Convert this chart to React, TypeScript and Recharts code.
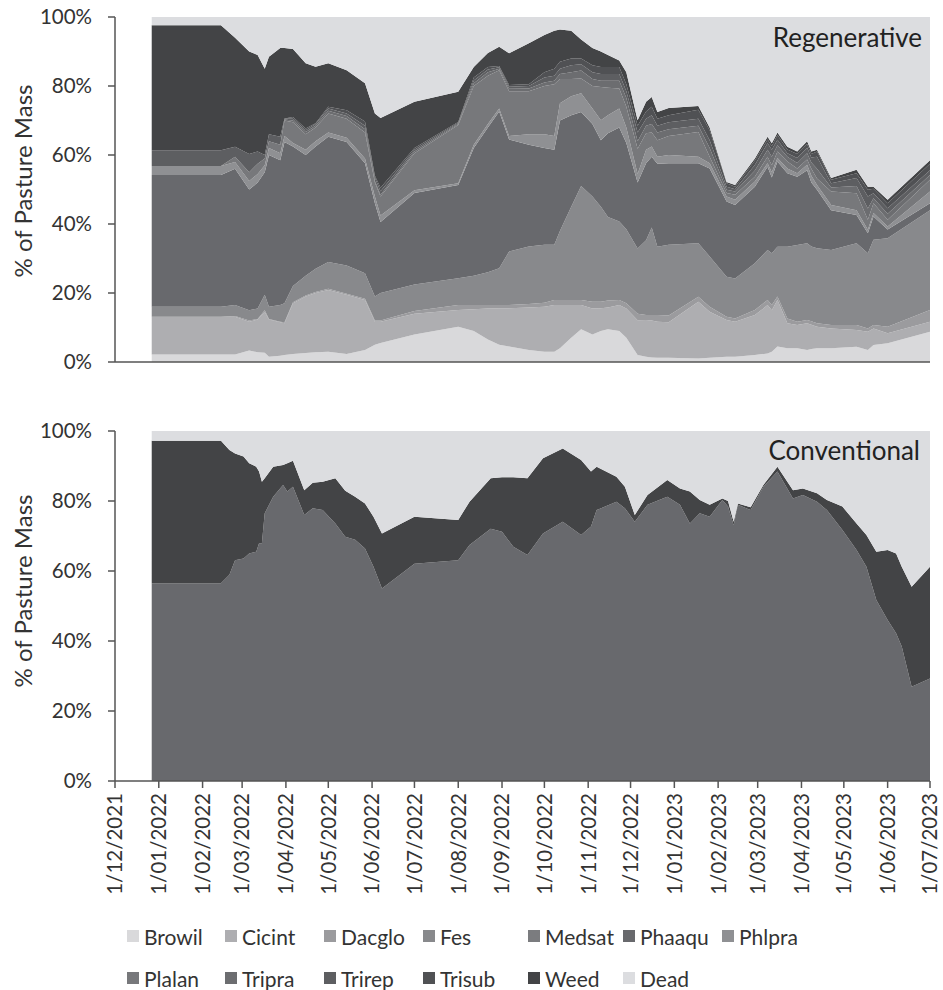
import { AreaChart, Area, XAxis, YAxis } from "recharts";

const FONT = "Lato, 'Open Sans', sans-serif";

// Regenerative paddocks, % of pasture mass per species on each sampling date
const regenDates = [
  "2021-12-27", "2022-02-14", "2022-02-24", "2022-03-06", "2022-03-12", "2022-03-17", "2022-03-20", "2022-03-28",
  "2022-03-31", "2022-04-06", "2022-04-15", "2022-04-22", "2022-05-01", "2022-05-14", "2022-05-27", "2022-06-03",
  "2022-06-07", "2022-07-01", "2022-08-01", "2022-08-12", "2022-08-22", "2022-08-30", "2022-09-06", "2022-09-20",
  "2022-10-01", "2022-10-08", "2022-10-12", "2022-10-20", "2022-10-27", "2022-11-04", "2022-11-10", "2022-11-15",
  "2022-11-23", "2022-11-28", "2022-12-06", "2022-12-12", "2022-12-16", "2022-12-20", "2022-12-28", "2023-01-18",
  "2023-01-26", "2023-02-07", "2023-02-13", "2023-02-27", "2023-03-08", "2023-03-11", "2023-03-15", "2023-03-22",
  "2023-03-29", "2023-04-05", "2023-04-08", "2023-04-12", "2023-04-22", "2023-05-10", "2023-05-18", "2023-05-22",
  "2023-06-01", "2023-07-01",
];
const browil = [
  2.2, 2.2, 2.2, 3.3, 2.8, 2.7, 1.5, 1.8, 2.0, 2.3, 2.6, 2.8, 3.0, 2.3, 3.5, 5.0, 5.5, 8.0, 10.2, 9.0,
  6.5, 5.0, 4.5, 3.5, 3.0, 3.0, 4.0, 7.0, 9.5, 8.0, 9.0, 9.5, 9.0, 7.0, 2.0, 1.5, 1.3, 1.2, 1.2, 1.0,
  1.2, 1.5, 1.5, 2.0, 2.5, 3.0, 4.5, 4.0, 4.0, 3.5, 3.8, 4.0, 4.0, 4.4, 3.5, 4.9, 5.4, 8.8,
];
const cicint = [
  10.9, 10.9, 10.9, 8.4, 9.5, 11.9, 10.8, 9.7, 9.2, 14.7, 16.4, 17.2, 17.9, 17.2, 14.5, 6.7, 6.2, 6.0, 4.9, 6.3,
  9.0, 10.6, 11.1, 12.3, 13.0, 13.5, 12.5, 9.5, 7.0, 7.5, 6.6, 6.3, 7.5, 8.5, 10.1, 10.7, 10.7, 10.5, 10.3, 16.5,
  13.4, 10.7, 10.2, 11.6, 14.0, 12.0, 13.5, 7.2, 6.7, 7.7, 7.0, 6.2, 5.7, 4.9, 5.3, 4.8, 2.9, 2.9,
];
const dacglo = [
  0, 0, 0.2, 0.3, 0.2, 0.4, 0.2, 0.2, 0.3, 0.3, 0.3, 0.3, 0.3, 0.3, 0.3, 0.3, 0.3, 0.8, 1.4, 1.2,
  1.0, 0.9, 0.9, 1.0, 1.2, 1.5, 1.5, 1.5, 1.5, 2.0, 1.9, 2.0, 1.5, 1.5, 1.9, 1.4, 1.6, 1.9, 2.0, 1.4,
  1.4, 0.9, 0.9, 1.5, 1.5, 1.5, 1.0, 1.4, 1.0, 1.0, 1.0, 1.0, 1.0, 1.4, 0.9, 1.0, 1.9, 3.4,
];
const fes = [
  2.9, 2.9, 3.2, 3.0, 3.0, 4.5, 3.5, 4.8, 5.5, 4.7, 5.7, 6.7, 7.8, 8.2, 7.4, 7.0, 8.0, 7.7, 7.8, 8.5,
  9.5, 10.7, 15.5, 16.7, 16.8, 16.0, 20.0, 27.0, 33.0, 30.5, 27.5, 24.2, 22.7, 21.5, 18.9, 21.7, 25.4, 19.8, 20.5, 15.5,
  14.6, 11.6, 11.6, 13.5, 14.5, 15.0, 14.4, 20.8, 22.2, 22.2, 21.7, 21.8, 21.8, 23.7, 21.8, 24.7, 25.7, 28.9,
];
const medsat = [
  0, 0, 0, 0, 0, 0, 0, 0, 0, 0, 0, 0, 0, 0, 0, 0, 0, 0, 0, 0,
  0, 0, 0, 0, 0, 0, 0, 0, 0, 0, 0, 0, 0, 0, 0, 0, 0, 0, 0, 0,
  0, 0, 0, 0, 0, 0, 0, 0, 0, 0, 0, 0, 0, 0, 0, 0, 0, 0,
];
const phaaqu = [
  38.2, 38.2, 39.5, 35.0, 36.5, 35.5, 44.0, 42.0, 46.8, 40.5, 35.0, 35.5, 36.3, 35.8, 31.9, 27.0, 20.6, 26.5, 27.0, 37.0,
  42.0, 45.4, 32.5, 29.5, 28.0, 27.5, 32.0, 26.5, 21.5, 21.0, 19.3, 24.3, 27.3, 25.0, 19.1, 22.3, 20.5, 24.1, 23.6, 23.2,
  25.5, 21.8, 21.3, 22.2, 24.1, 22.0, 24.7, 21.3, 19.8, 21.2, 18.5, 16.9, 11.5, 8.2, 5.8, 6.8, 2.5, 2.0,
];
const phlpra = [
  2.6, 2.6, 2.0, 2.5, 2.5, 2.0, 2.0, 2.0, 1.7, 1.0, 1.5, 1.5, 1.2, 1.2, 1.4, 2.0, 1.9, 0.8, 0.5, 1.0,
  1.0, 0.9, 1.0, 3.0, 4.0, 4.0, 5.0, 5.5, 5.4, 4.5, 5.8, 5.2, 5.5, 4.5, 2.5, 3.9, 3.0, 2.0, 2.4, 1.9,
  1.5, 1.5, 1.5, 1.5, 1.0, 1.5, 1.0, 1.4, 1.0, 1.6, 2.0, 1.4, 1.5, 1.4, 1.0, 1.0, 0.9, 3.4,
];
const plalan = [
  0, 0, 1.5, 2.5, 3.0, 2.0, 2.0, 2.5, 4.5, 6.0, 4.5, 4.0, 5.5, 5.5, 7.5, 4.0, 5.5, 10.7, 16.9, 17.0,
  14.0, 11.1, 13.0, 12.5, 14.0, 15.0, 7.0, 5.0, 4.3, 6.5, 9.6, 8.0, 5.8, 6.0, 7.3, 4.8, 4.0, 4.8, 5.5, 7.2,
  1.9, 1.0, 1.5, 1.4, 1.9, 2.0, 1.9, 2.0, 1.4, 1.5, 2.0, 1.9, 3.9, 4.9, 2.9, 2.8, 1.9, 3.4,
];
const tripra = [
  0, 0, 0, 0, 0, 0, 0, 0, 0.3, 0.5, 0.7, 0.5, 0.8, 0.8, 1.0, 0.5, 0.5, 0.5, 0.3, 0.8,
  1.0, 0.4, 0.7, 0.8, 1.0, 1.0, 1.5, 2.0, 2.3, 2.0, 1.8, 2.0, 2.2, 2.5, 2.2, 2.2, 2.5, 2.2, 2.0, 1.8,
  2.5, 0.9, 0.9, 1.8, 2.0, 2.5, 1.8, 1.4, 1.6, 1.8, 1.8, 2.8, 1.2, 2.1, 3.3, 1.5, 1.8, 1.4,
];
const trirep = [
  4.6, 4.6, 2.9, 5.3, 3.5, 1.0, 2.0, 2.3, 0.3, 0.5, 0.5, 0.5, 0.7, 0.7, 1.0, 1.0, 1.0, 0.5, 0.3, 0.8,
  0.8, 0.4, 0.6, 0.7, 1.5, 1.5, 1.5, 2.0, 1.8, 2.0, 2.0, 2.0, 2.0, 2.0, 2.5, 2.0, 2.5, 2.0, 2.0, 2.0,
  2.3, 0.9, 0.7, 1.6, 1.9, 2.0, 1.6, 1.0, 1.4, 1.6, 1.5, 3.5, 1.2, 2.3, 3.5, 1.4, 1.6, 1.4,
];
const trisub = [
  0, 0, 0, 0, 0, 0, 0, 0, 0, 0.5, 0.5, 0.2, 0.5, 1.0, 1.2, 0.5, 1.0, 0.5, 0.3, 0.9,
  0.7, 0.4, 0.5, 0.5, 1.5, 2.0, 2.0, 2.0, 1.7, 2.0, 2.0, 2.0, 2.0, 2.0, 2.0, 2.1, 2.5, 2.0, 2.0, 2.6,
  2.9, 1.0, 0.7, 1.3, 1.1, 1.1, 1.4, 1.1, 1.2, 1.1, 1.0, 1.5, 1.0, 1.4, 1.9, 1.3, 1.4, 1.9,
];
const weed = [
  36.2, 36.2, 31.6, 29.7, 28.0, 25.0, 22.5, 25.7, 20.4, 19.7, 18.9, 16.4, 12.6, 11.6, 11.1, 18.0, 20.2, 13.4, 8.7, 3.0,
  4.1, 5.6, 9.2, 11.9, 10.8, 11.0, 9.4, 8.0, 5.5, 5.0, 4.5, 3.5, 1.9, 3.5, 1.6, 2.8, 2.8, 2.0, 2.1, 1.1,
  0.8, 0.4, 0.5, 0.6, 0.8, 0.8, 0.7, 0.8, 0.7, 0.8, 0.7, 0.5, 0.5, 1.0, 0.9, 0.6, 1.0, 1.0,
];
const dead = [
  2.4, 2.4, 6.0, 10.0, 11.0, 15.0, 11.5, 9.0, 9.0, 9.3, 13.4, 14.4, 13.4, 15.4, 19.2, 28.0, 29.3, 24.6, 21.7, 14.5,
  10.4, 8.6, 10.5, 7.6, 5.2, 4.0, 3.6, 4.0, 6.5, 9.0, 10.0, 11.0, 12.6, 16.0, 29.9, 24.6, 23.2, 27.5, 26.4, 25.8,
  32.0, 47.8, 48.7, 41.0, 34.7, 36.6, 33.5, 37.6, 39.0, 36.0, 39.0, 38.5, 46.7, 44.3, 49.2, 49.2, 53.0, 41.5,
];

// Conventional paddocks
const convDates = [
  "2021-12-27", "2022-02-14", "2022-02-20", "2022-02-24", "2022-03-02", "2022-03-06", "2022-03-11", "2022-03-13",
  "2022-03-15", "2022-03-17", "2022-03-23", "2022-03-30", "2022-04-02", "2022-04-06", "2022-04-14", "2022-04-20",
  "2022-04-27", "2022-05-06", "2022-05-13", "2022-05-20", "2022-05-27", "2022-06-02", "2022-06-08", "2022-07-01",
  "2022-08-01", "2022-08-09", "2022-08-24", "2022-09-01", "2022-09-09", "2022-09-19", "2022-09-30", "2022-10-14",
  "2022-10-27", "2022-11-03", "2022-11-07", "2022-11-21", "2022-11-27", "2022-12-04", "2022-12-13", "2022-12-27",
  "2023-01-05", "2023-01-12", "2023-01-19", "2023-01-26", "2023-02-04", "2023-02-08", "2023-02-12", "2023-02-15",
  "2023-02-24", "2023-03-05", "2023-03-15", "2023-03-26", "2023-04-02", "2023-04-12", "2023-04-19", "2023-04-30",
  "2023-05-10", "2023-05-17", "2023-05-24", "2023-06-01", "2023-06-07", "2023-06-11", "2023-06-18", "2023-07-01",
];
const convPhaaqu = [
  56.5, 56.5, 58.9, 63.1, 63.6, 65.0, 65.5, 67.9, 67.9, 76.5, 81.2, 84.6, 82.7, 84.1, 76.0, 77.9,
  77.4, 73.6, 69.8, 68.9, 66.4, 61.2, 55.0, 62.1, 63.1, 67.4, 72.1, 71.2, 66.9, 64.6, 70.7, 74.1,
  70.3, 72.7, 77.4, 79.8, 77.9, 74.1, 78.9, 81.2, 78.9, 73.6, 76.5, 75.5, 80.3, 78.4, 73.1, 78.9,
  77.4, 84.1, 88.4, 80.7, 81.7, 79.8, 77.4, 71.7, 66.0, 61.2, 51.7, 46.0, 42.2, 38.4, 26.9, 29.3,
];
const convWeed = [
  40.7, 40.7, 35.7, 30.5, 29.1, 25.8, 24.3, 20.5, 17.6, 10.0, 8.6, 5.7, 8.1, 7.4, 7.1, 7.3,
  8.1, 12.9, 13.1, 12.3, 12.9, 14.3, 15.7, 13.4, 11.5, 12.4, 14.4, 15.6, 19.9, 21.9, 21.5, 20.9,
  21.4, 15.7, 12.4, 7.1, 6.2, 1.9, 2.8, 4.8, 4.7, 9.1, 3.8, 3.4, 0.4, 1.6, 1.0, 0.4,
  0.8, 0.5, 1.4, 2.4, 1.9, 2.4, 2.9, 6.7, 7.6, 9.1, 13.8, 20.0, 22.8, 22.8, 28.6, 31.9,
];
const convDead = [
  2.8, 2.8, 5.4, 6.4, 7.3, 9.2, 10.2, 11.6, 14.5, 13.5, 10.2, 9.7, 9.2, 8.5, 16.9, 14.8,
  14.5, 13.5, 17.1, 18.8, 20.7, 24.5, 29.3, 24.5, 25.4, 20.2, 13.5, 13.2, 13.2, 13.5, 7.8, 5.0,
  8.3, 11.6, 10.2, 13.1, 15.9, 24.0, 18.3, 14.0, 16.4, 17.3, 19.7, 21.1, 19.3, 20.0, 25.9, 20.7,
  21.8, 15.4, 10.2, 16.9, 16.4, 17.8, 19.7, 21.6, 26.4, 29.7, 34.5, 34.0, 35.0, 38.8, 44.5, 38.8,
];

const monthStarts = [
  "2021-12-01", "2022-01-01", "2022-02-01", "2022-03-01", "2022-04-01", "2022-05-01", "2022-06-01",
  "2022-07-01", "2022-08-01", "2022-09-01", "2022-10-01", "2022-11-01", "2022-12-01", "2023-01-01",
  "2023-02-01", "2023-03-01", "2023-04-01", "2023-05-01", "2023-06-01", "2023-07-01",
];
const pctTicks = [0, 20, 40, 60, 80, 100];

const species = [
  { key: "Browil", color: "#d9d9db", values: browil },
  { key: "Cicint", color: "#aeaeb1", values: cicint },
  { key: "Dacglo", color: "#9b9b9e", values: dacglo },
  { key: "Fes", color: "#88898c", values: fes },
  { key: "Medsat", color: "#7b7c7f", values: medsat },
  { key: "Phaaqu", color: "#68696d", values: phaaqu },
  { key: "Phlpra", color: "#8f9093", values: phlpra },
  { key: "Plalan", color: "#77787b", values: plalan },
  { key: "Tripra", color: "#6c6d70", values: tripra },
  { key: "Trirep", color: "#5d5e61", values: trirep },
  { key: "Trisub", color: "#505154", values: trisub },
  { key: "Weed", color: "#434446", values: weed },
  { key: "Dead", color: "#dcdde0", values: dead },
];
const colorOf = (k: string) => species.find((s) => s.key === k)!.color;

const toDay = (s: string) => {
  const [y, m, d] = s.split("-").map(Number);
  return Date.UTC(y, m - 1, d) / 86400000;
};
const fmtDate = (v: number) => {
  const dt = new Date(v * 86400000);
  return `${dt.getUTCDate()}/${String(dt.getUTCMonth() + 1).padStart(2, "0")}/${dt.getUTCFullYear()}`;
};

const xTicks = monthStarts.map(toDay);
const xDomain = [xTicks[0], xTicks[xTicks.length - 1]];

const regenData = regenDates.map((d, i) => {
  const row: Record<string, number> = { t: toDay(d) };
  species.forEach((s) => (row[s.key] = s.values[i]));
  return row;
});
const convData = convDates.map((d, i) => ({
  t: toDay(d),
  Phaaqu: convPhaaqu[i],
  Weed: convWeed[i],
  Dead: convDead[i],
}));

const AXIS = "#555555";
const TEXT = "#333333";

const DateTick = (props: any) => {
  const { x, y, payload } = props;
  return (
    <text
      x={x}
      y={y}
      dx={-3}
      dy="0.36em"
      transform={`rotate(-90, ${x}, ${y})`}
      textAnchor="end"
      fill={TEXT}
      fontSize={20.5}
      fontFamily={FONT}
    >
      {fmtDate(payload.value)}
    </text>
  );
};

const yAxisProps = {
  type: "number" as const,
  domain: [0, 100],
  ticks: pctTicks,
  tickFormatter: (v: number) => `${v}%`,
  width: 115,
  tickSize: 7,
  tickMargin: 16,
  axisLine: { stroke: AXIS, strokeWidth: 1.5 },
  tickLine: { stroke: AXIS, strokeWidth: 1.5 },
  tick: { fontSize: 20.5, fill: TEXT, fontFamily: FONT },
  allowDataOverflow: true,
};

const xAxisProps = {
  dataKey: "t",
  type: "number" as const,
  domain: xDomain,
  ticks: xTicks,
  scale: "linear" as const,
  tickSize: 7,
  axisLine: { stroke: AXIS, strokeWidth: 1.5 },
  tickLine: { stroke: AXIS, strokeWidth: 1.5 },
  allowDataOverflow: true,
};

const legendCols = [127, 225, 324, 423, 528, 623, 722];

export default function App() {
  return (
    <div style={{ position: "absolute", left: 0, top: 0, width: 943, height: 990, background: "#fff" }}>
      <div style={{ position: "absolute", left: 0, top: 0 }}>
        <AreaChart width={943} height={380} data={regenData} margin={{ top: 17, right: 13, bottom: 0, left: 0 }}>
          <XAxis {...xAxisProps} height={18} tick={false} />
          <YAxis {...yAxisProps} />
          {species.map((s) => (
            <Area
              key={s.key}
              type="linear"
              dataKey={s.key}
              stackId="regen"
              stroke="none"
              fill={s.color}
              fillOpacity={1}
              isAnimationActive={false}
            />
          ))}
        </AreaChart>
      </div>
      <div style={{ position: "absolute", left: 0, top: 400 }}>
        <AreaChart width={943} height={500} data={convData} margin={{ top: 31, right: 13, bottom: 0, left: 0 }}>
          <XAxis {...xAxisProps} height={119} tick={<DateTick />} interval={0} />
          <YAxis {...yAxisProps} />
          {["Phaaqu", "Weed", "Dead"].map((k) => (
            <Area
              key={k}
              type="linear"
              dataKey={k}
              stackId="conv"
              stroke="none"
              fill={colorOf(k)}
              fillOpacity={1}
              isAnimationActive={false}
            />
          ))}
        </AreaChart>
      </div>
      <svg
        width={943}
        height={990}
        style={{ position: "absolute", left: 0, top: 0, pointerEvents: "none" }}
        fontFamily={FONT}
      >
        <text x={22} y={181} transform="rotate(-90, 22, 181)" textAnchor="middle" dominantBaseline="central" fontSize={24} fill={TEXT}>
          % of Pasture Mass
        </text>
        <text x={22} y={591} transform="rotate(-90, 22, 591)" textAnchor="middle" dominantBaseline="central" fontSize={24} fill={TEXT}>
          % of Pasture Mass
        </text>
        <text x={922} y={47} textAnchor="end" fontSize={26} fill="#222">
          Regenerative
        </text>
        <text x={920} y={460} textAnchor="end" fontSize={26} fill="#222">
          Conventional
        </text>
        {species.map((s, i) => {
          const row = i < 7 ? 0 : 1;
          const col = i < 7 ? i : i - 7;
          const cx = legendCols[col];
          const cy = row === 0 ? 936 : 978;
          return (
            <g key={s.key}>
              <rect x={cx} y={cy - 6} width={12} height={12} fill={s.color} />
              <text x={cx + 17} y={cy} dominantBaseline="central" fontSize={21} fill={TEXT}>
                {s.key}
              </text>
            </g>
          );
        })}
      </svg>
    </div>
  );
}
